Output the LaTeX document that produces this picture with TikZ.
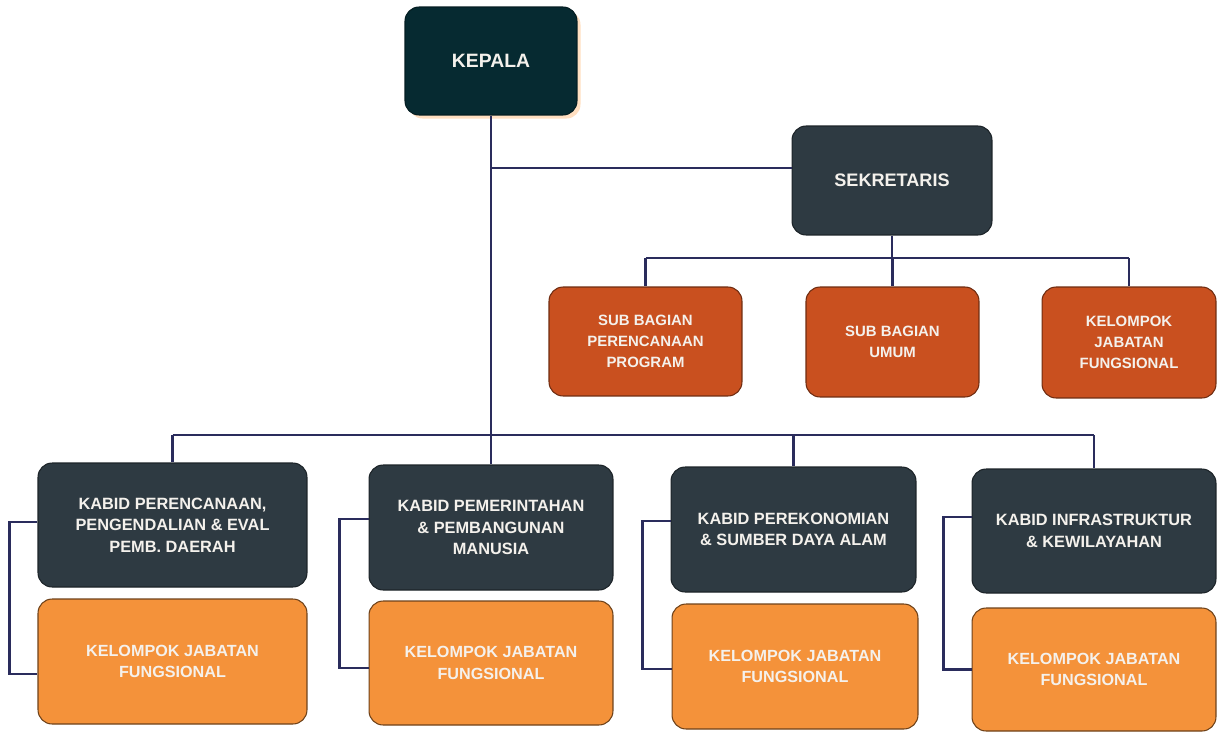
\documentclass[tikz,border=0pt]{standalone}
\usepackage{fontspec}
\setmainfont{Liberation Sans}
\usepackage{xcolor}
\usetikzlibrary{shadows}
\definecolor{kepalafill}{HTML}{062A31}
\definecolor{darkfill}{HTML}{2E3A42}
\definecolor{subfill}{HTML}{C9501F}
\definecolor{jabfill}{HTML}{F4923A}
\definecolor{linkcol}{HTML}{2A2C5C}
\definecolor{lighttext}{HTML}{F4F1EC}

\begin{document}
\begin{tikzpicture}[x=0.02cm,y=-0.02cm,
  box/.style={rectangle,rounded corners=8pt,align=center,font=\bfseries,text=lighttext,line width=0.6pt},
  head/.style={box,fill=kepalafill,draw=kepalafill!70!black,font=\bfseries\fontsize{11}{13}\selectfont,
    drop shadow={fill=orange!35,opacity=0.7,shadow xshift=2pt,shadow yshift=-2pt}},
  dark/.style={box,fill=darkfill,draw=darkfill!60!black,font=\bfseries\fontsize{9.3}{12.3}\selectfont},
  sub/.style={box,fill=subfill,draw=subfill!55!black,font=\bfseries\fontsize{8.5}{12}\selectfont},
  jab/.style={box,fill=jabfill,draw=jabfill!45!black,font=\bfseries\fontsize{9.2}{12.3}\selectfont},
  link/.style={draw=linkcol,line width=1.3pt}]
\useasboundingbox (0,0) rectangle (1217,731);

\node [head,minimum width=3.44cm,minimum height=2.16cm] (kepala) at (491,61) {KEPALA};
\node [dark,minimum width=4cm,minimum height=2.18cm,font=\bfseries\fontsize{10.3}{12}\selectfont] (sek) at (892,180.5) {SEKRETARIS};

\node [sub,minimum width=3.86cm,minimum height=2.18cm] (sub1) at (645.5,341.5) {SUB BAGIAN\\PERENCANAAN\\PROGRAM};
\node [sub,minimum width=3.46cm,minimum height=2.2cm] (sub2) at (892.5,342) {SUB BAGIAN\\UMUM};
\node [sub,minimum width=3.48cm,minimum height=2.22cm] (sub3) at (1129,342.5) {KELOMPOK\\JABATAN\\FUNGSIONAL};

\node [dark,minimum width=5.38cm,minimum height=2.48cm] (kb1) at (172.5,525) {KABID PERENCANAAN,\\PENGENDALIAN \& EVAL\\PEMB. DAERAH};
\node [dark,minimum width=4.88cm,minimum height=2.5cm] (kb2) at (491,527.5) {KABID PEMERINTAHAN\\\& PEMBANGUNAN\\MANUSIA};
\node [dark,minimum width=4.9cm,minimum height=2.5cm] (kb3) at (793.5,529.5) {KABID PEREKONOMIAN\\\& SUMBER DAYA ALAM};
\node [dark,minimum width=4.88cm,minimum height=2.48cm] (kb4) at (1094,531) {KABID INFRASTRUKTUR\\\& KEWILAYAHAN};

\node [jab,minimum width=5.38cm,minimum height=2.5cm] (kj1) at (172.5,661.5) {KELOMPOK JABATAN\\FUNGSIONAL};
\node [jab,minimum width=4.88cm,minimum height=2.48cm] (kj2) at (491,663) {KELOMPOK JABATAN\\FUNGSIONAL};
\node [jab,minimum width=4.92cm,minimum height=2.5cm] (kj3) at (795,666.5) {KELOMPOK JABATAN\\FUNGSIONAL};
\node [jab,minimum width=4.88cm,minimum height=2.46cm] (kj4) at (1094,669.5) {KELOMPOK JABATAN\\FUNGSIONAL};

\coordinate (sj) at (491,168);
\coordinate (bus) at (491,435);
\coordinate (sbus) at (892,258);

\draw[link] (kepala.south) -- (bus);
\draw[link] (sj) -- (sj -| sek.west);
\draw[link] (sek.south) -- (sbus);
\draw[link] (sub1.north |- sbus) -- (sub3.north |- sbus);
\foreach \s in {sub1,sub2,sub3}
  \draw[link] (\s.north |- sbus) -- (\s.north);
\draw[link] (kb1.north |- bus) -- (kb4.north |- bus);
\foreach \k in {kb1,kb2,kb3,kb4}
  \draw[link] (\k.north |- bus) -- (\k.north);

\draw[link] ([yshift=0.06cm]kb1.west) -- ++(-28,0) |- ([yshift=-0.25cm]kj1.west);
\draw[link] ([yshift=0.17cm]kb2.west) -- ++(-29,0) |- ([yshift=-0.1cm]kj2.west);
\draw[link] ([yshift=0.17cm]kb3.west) -- ++(-28,0) |- ([yshift=-0.05cm]kj3.west);
\draw[link] ([yshift=0.28cm]kb4.west) -- ++(-28,0) |- (kj4.west);

\end{tikzpicture}
\end{document}
